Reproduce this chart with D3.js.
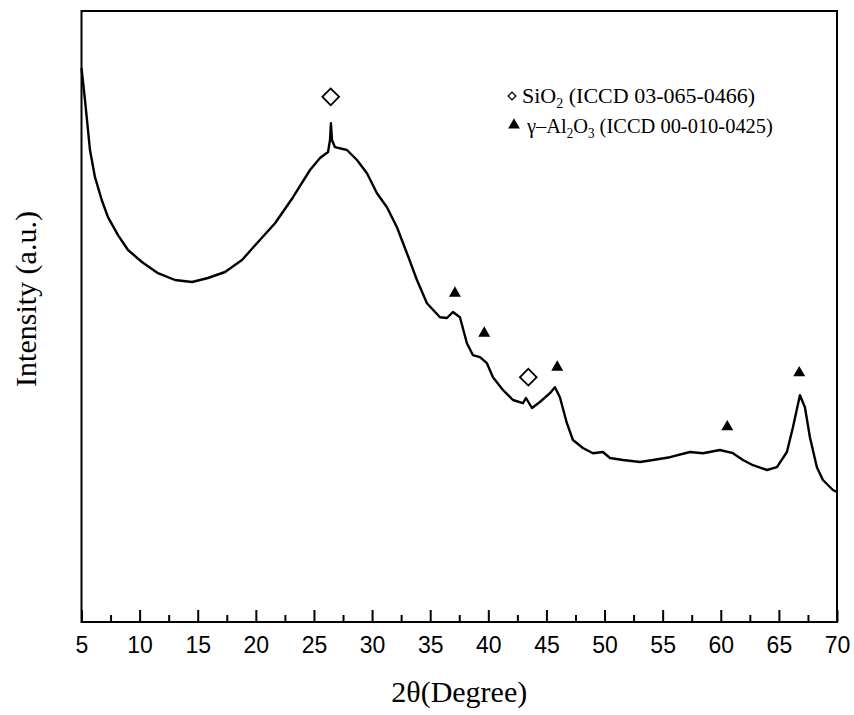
<!DOCTYPE html>
<html>
<head>
<meta charset="utf-8">
<script src="https://cdn.jsdelivr.net/npm/d3@7"></script>
<style>
  html, body { margin: 0; padding: 0; background: #fff; }
  svg { display: block; }
</style>
</head>
<body>
<svg id="chart" width="854" height="715"></svg>
<script>
// ---- data ----
const theta = [5.0, 5.3, 5.73, 6.16, 6.74, 7.28, 8.14, 9.0, 10.2, 11.58, 13.04, 14.51, 15.88, 17.35, 18.81, 20.19, 21.65, 23.2, 24.66, 25.52, 26.21, 26.38, 26.46, 26.55, 26.81, 27.84, 28.7, 29.56, 30.42, 31.28, 32.14, 33.0, 33.86, 34.72, 35.84, 36.44, 36.96, 37.56, 38.16, 38.68, 39.28, 39.88, 40.4, 41.26, 42.12, 42.98, 43.24, 43.76, 44.44, 45.3, 45.73, 46.16, 46.76, 47.28, 48.14, 49.0, 49.86, 50.47, 51.59, 53.05, 54.17, 55.63, 57.35, 58.47, 59.93, 61.05, 61.91, 62.77, 63.98, 64.83, 65.69, 66.21, 66.81, 67.24, 67.67, 68.27, 68.79, 69.65, 70.0];
const intensity = [1385, 1305, 1180, 1112, 1055, 1012, 967, 930, 900, 872, 855, 850, 860, 875, 905, 950, 997, 1062, 1130, 1160, 1175, 1205, 1247, 1205, 1187, 1180, 1155, 1122, 1072, 1037, 987, 922, 855, 797, 762, 760, 775, 762, 697, 667, 662, 647, 612, 580, 555, 547, 560, 535, 550, 572, 587, 562, 497, 455, 435, 422, 425, 410, 405, 400, 405, 412, 425, 422, 430, 422, 405, 392, 380, 387, 425, 487, 567, 537, 462, 387, 355, 330, 325];

const sio2Theta = [26.44, 43.44];
const sio2Y = [1313, 612];
const alTheta = [37.13, 39.65, 45.93, 60.56, 66.75];
const alY = [822, 722, 637, 488, 623];

const majorTicks = [5, 10, 15, 20, 25, 30, 35, 40, 45, 50, 55, 60, 65, 70];
const minorTicks = [7.5, 12.5, 17.5, 22.5, 27.5, 32.5, 37.5, 42.5, 47.5, 52.5, 57.5, 62.5, 67.5];

const xTitle = "2θ(Degree)";
const yTitle = "Intensity (a.u.)";

// ---- layout ----
const L = 81.5, R = 837, T = 11, B = 622;
const svg = d3.select("#chart");

const x = d3.scaleLinear().domain([5, 70]).range([L, R]);
const y = d3.scaleLinear().domain([0, 1527.5]).range([B, T]);

// frame
svg.append("rect")
  .attr("x", L).attr("y", T).attr("width", R - L).attr("height", B - T)
  .attr("fill", "none").attr("stroke", "#000").attr("stroke-width", 2);

// major ticks + labels
const gx = svg.append("g").attr("transform", `translate(0,${B})`)
  .call(d3.axisBottom(x).tickValues(majorTicks).tickFormat(d3.format("d"))
    .tickSizeInner(-12).tickSizeOuter(0).tickPadding(15));
gx.select(".domain").remove();
gx.selectAll("line").attr("stroke", "#000").attr("stroke-width", 2);
gx.selectAll("text").attr("font-family", "'Liberation Sans', Arial, sans-serif")
  .attr("font-size", 23).attr("fill", "#000");

// minor ticks
const gm = svg.append("g").attr("transform", `translate(0,${B})`)
  .call(d3.axisBottom(x).tickValues(minorTicks).tickFormat("")
    .tickSizeInner(-7).tickSizeOuter(0));
gm.select(".domain").remove();
gm.selectAll("line").attr("stroke", "#000").attr("stroke-width", 2);

// axis titles
svg.append("text").attr("x", (L + R) / 2).attr("y", 702)
  .attr("text-anchor", "middle")
  .attr("font-family", "'Liberation Serif', 'Times New Roman', serif")
  .attr("font-size", 30).text(xTitle);

svg.append("text").attr("transform", "translate(36,299) rotate(-90)")
  .attr("text-anchor", "middle")
  .attr("font-family", "'Liberation Serif', 'Times New Roman', serif")
  .attr("font-size", 30).text(yTitle);

// pattern
const pts = theta.map((t, i) => [t, intensity[i]]);
svg.append("path").datum(pts)
  .attr("fill", "none").attr("stroke", "#000").attr("stroke-width", 2.4)
  .attr("stroke-linejoin", "round")
  .attr("d", d3.line().x(d => x(d[0])).y(d => y(d[1])));

// markers
const diamond = d3.symbol().type(d3.symbolSquare).size(140);
svg.selectAll(".dia").data(sio2Theta).enter().append("path")
  .attr("d", diamond)
  .attr("transform", (d, i) => `translate(${x(d)},${y(sio2Y[i])}) rotate(45)`)
  .attr("fill", "#fff").attr("stroke", "#000").attr("stroke-width", 1.8);

const tri = d3.symbol().type(d3.symbolTriangle).size(62);
svg.selectAll(".tri").data(alTheta).enter().append("path")
  .attr("d", tri)
  .attr("transform", (d, i) => `translate(${x(d)},${y(alY[i])})`)
  .attr("fill", "#000");

// legend
const lg = svg.append("g")
  .attr("font-family", "'Liberation Serif', 'Times New Roman', serif")
  .attr("font-size", 22).attr("fill", "#000");
lg.append("path").attr("d", d3.symbol().type(d3.symbolSquare).size(30))
  .attr("transform", "translate(512,96) rotate(45)")
  .attr("fill", "#fff").attr("stroke", "#000").attr("stroke-width", 1.3);
const t1 = lg.append("text").attr("x", 522).attr("y", 103);
t1.append("tspan").text("SiO");
t1.append("tspan").attr("font-size", 14).attr("dy", 5).text("2");
t1.append("tspan").attr("dy", -5).text(" (ICCD 03-065-0466)");

lg.append("path").attr("d", d3.symbol().type(d3.symbolTriangle).size(60))
  .attr("transform", "translate(514,125)").attr("fill", "#000");
const t2 = lg.append("text").attr("transform", "translate(527,133) scale(0.93,1)");
t2.append("tspan").text("γ–Al");
t2.append("tspan").attr("font-size", 14).attr("dy", 5).text("2");
t2.append("tspan").attr("dy", -5).text("O");
t2.append("tspan").attr("font-size", 14).attr("dy", 5).text("3");
t2.append("tspan").attr("dy", -5).text(" (ICCD 00-010-0425)");
</script>
</body>
</html>
